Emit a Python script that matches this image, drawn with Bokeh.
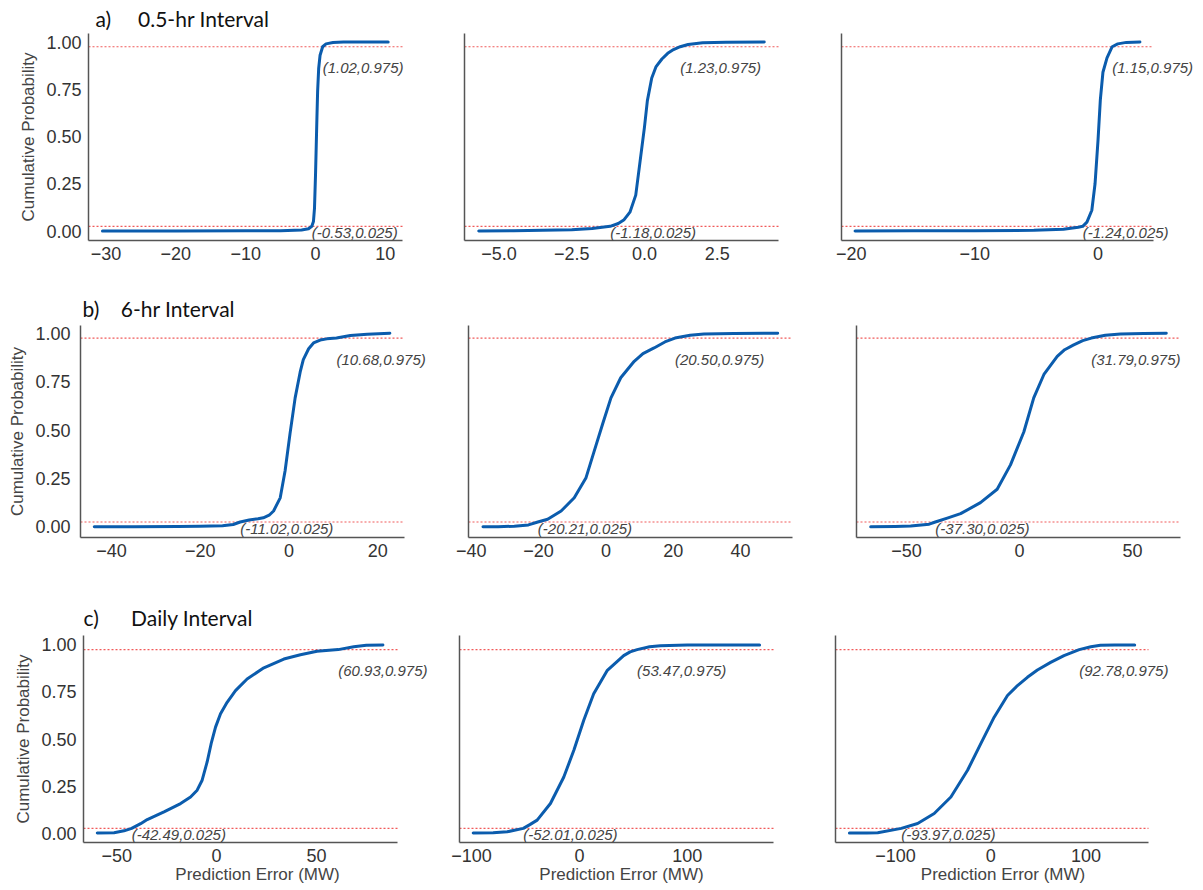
from bokeh.plotting import figure
from bokeh.layouts import column, row
from bokeh.models import Range1d, FixedTicker, Label, Title
from bokeh.embed import file_html
from bokeh.resources import INLINE

# ---------------- data ----------------
row_titles = ["a)", "b)", "c)"]
row_names = ["0.5-hr Interval", "6-hr Interval", "Daily Interval"]
y_label = "Cumulative Probability"
x_label = "Prediction Error (MW)"
quantile_levels = [0.025, 0.975]
y_ticks = [0.0, 0.25, 0.5, 0.75, 1.0]
y_tick_labels = ["0.00", "0.25", "0.50", "0.75", "1.00"]

# row a (0.5-hr)
a1_x = [-30.5, -20, -10, -5, -2, -1.0, -0.53, -0.3, -0.15, 0.0, 0.1, 0.2, 0.3, 0.45, 0.65, 1.02, 1.5, 2.5, 4, 7, 10.4]
a1_p = [0.0, 0.0, 0.001, 0.002, 0.006, 0.012, 0.025, 0.05, 0.12, 0.3, 0.45, 0.6, 0.74, 0.86, 0.93, 0.975, 0.99, 0.997, 1.0, 1.0, 1.0]
a2_x = [-5.7, -4.5, -3.5, -2.5, -1.8, -1.18, -0.9, -0.7, -0.5, -0.3, -0.15, 0.0, 0.1, 0.25, 0.4, 0.6, 0.8, 1.0, 1.23, 1.5, 2.0, 2.8, 4.12]
a2_p = [0.0, 0.002, 0.004, 0.007, 0.013, 0.025, 0.04, 0.06, 0.1, 0.19, 0.37, 0.55, 0.69, 0.81, 0.87, 0.91, 0.94, 0.96, 0.975, 0.987, 0.996, 0.999, 1.0]
a3_x = [-19.7, -15, -10, -5.2, -2.8, -1.6, -1.24, -0.9, -0.5, -0.24, 0.0, 0.19, 0.4, 0.73, 1.15, 1.6, 2.3, 3.4]
a3_p = [0.0, 0.001, 0.002, 0.004, 0.01, 0.02, 0.025, 0.047, 0.11, 0.25, 0.48, 0.695, 0.84, 0.916, 0.975, 0.99, 0.998, 1.0]
# row b (6-hr)
b1_x = [-43.9, -35, -25, -20.1, -15, -12.6, -11.02, -9, -7, -5.8, -4.5, -3.5, -2.0, -0.9, 0.2, 1.36, 2.5, 3.2, 4.4, 5.5, 7.0, 8.5, 10.68, 13.8, 17.6, 22.7]
b1_p = [0.0, 0.001, 0.002, 0.003, 0.006, 0.012, 0.025, 0.035, 0.042, 0.047, 0.06, 0.082, 0.15, 0.29, 0.48, 0.666, 0.80, 0.864, 0.92, 0.95, 0.965, 0.971, 0.975, 0.988, 0.995, 1.0]
b2_x = [-36.5, -32, -27.2, -23, -20.21, -17.3, -13.3, -9.4, -5.9, -3.5, -1.0, 1.5, 4.4, 8.4, 11, 14.3, 17.5, 20.5, 25, 29.1, 38, 51]
b2_p = [0.0, 0.001, 0.003, 0.01, 0.025, 0.039, 0.082, 0.15, 0.254, 0.39, 0.53, 0.666, 0.77, 0.855, 0.895, 0.924, 0.955, 0.975, 0.99, 0.996, 0.999, 1.0]
b3_x = [-65.9, -55, -48.2, -40, -37.3, -32, -26.1, -17.3, -9.9, -4.0, 1.9, 6.3, 10.8, 16.7, 20, 24, 28, 31.79, 38, 44.7, 55, 65]
b3_p = [0.0, 0.002, 0.004, 0.014, 0.025, 0.045, 0.068, 0.125, 0.194, 0.32, 0.49, 0.666, 0.787, 0.88, 0.915, 0.94, 0.962, 0.975, 0.99, 0.996, 0.999, 1.0]
# row c (daily)
c1_x = [-59.7, -51.3, -46.3, -42.49, -38, -34.7, -26.3, -18, -13, -9.7, -7.2, -4.7, -2.7, -0.5, 2.0, 5.3, 9.5, 15.3, 23.7, 33.7, 42, 50.3, 60.93, 68.7, 75, 83.3]
c1_p = [0.0, 0.002, 0.012, 0.025, 0.05, 0.072, 0.113, 0.157, 0.192, 0.228, 0.281, 0.378, 0.475, 0.563, 0.634, 0.695, 0.757, 0.819, 0.878, 0.925, 0.948, 0.966, 0.975, 0.99, 0.998, 1.0]
c2_x = [-98.5, -80, -67, -52.01, -46, -39.2, -26.9, -14.5, -5.2, 4, 13.2, 25.6, 41, 47, 53.47, 65, 75, 100, 130, 167]
c2_p = [0.0, 0.002, 0.007, 0.025, 0.045, 0.069, 0.157, 0.298, 0.44, 0.6, 0.74, 0.863, 0.943, 0.963, 0.975, 0.99, 0.996, 0.999, 1.0, 1.0]
c3_x = [-148.4, -130, -118.7, -93.97, -76.8, -59.4, -41.9, -24.4, -10.5, 3.5, 17.5, 28, 38.4, 48.9, 62.8, 76.8, 92.78, 105, 115, 130, 151]
c3_p = [0.0, 0.0, 0.002, 0.025, 0.051, 0.104, 0.192, 0.334, 0.475, 0.616, 0.731, 0.784, 0.828, 0.867, 0.907, 0.943, 0.975, 0.99, 0.998, 1.0, 1.0]

lower_x = [-0.53, -1.18, -1.24, -11.02, -20.21, -37.30, -42.49, -52.01, -93.97]
upper_x = [1.02, 1.23, 1.15, 10.68, 20.50, 31.79, 60.93, 53.47, 92.78]

x_ticks = [
    [-30, -20, -10, 0, 10], [-5.0, -2.5, 0.0, 2.5], [-20, -10, 0],
    [-40, -20, 0, 20], [-40, -20, 0, 20, 40], [-50, 0, 50],
    [-50, 0, 50], [-100, 0, 100], [-100, 0, 100],
]
x_tick_labels = [
    ["\u221230", "\u221220", "\u221210", "0", "10"], ["\u22125.0", "\u22122.5", "0.0", "2.5"], ["\u221220", "\u221210", "0"],
    ["\u221240", "\u221220", "0", "20"], ["\u221240", "\u221220", "0", "20", "40"], ["\u221250", "0", "50"],
    ["\u221250", "0", "50"], ["\u2212100", "0", "100"], ["\u2212100", "0", "100"],
]
curves_x = [a1_x, a2_x, a3_x, b1_x, b2_x, b3_x, c1_x, c2_x, c3_x]
curves_p = [a1_p, a2_p, a3_p, b1_p, b2_p, b3_p, c1_p, c2_p, c3_p]

# ---------------- layout / styling ----------------
x_ranges = [(-32.5, 12.45), (-6.19, 4.61), (-20.8, 4.5),
            (-47.0, 26.0), (-40.8, 55.4), (-72.2, 71.3),
            (-66.6, 90.6), (-111.2, 179.9), (-163.0, 165.5)]
row_y_range = [(-0.05, 1.045), (-0.055, 1.04), (-0.05, 1.05)]
frame_w = [314, 314, 312, 324, 324, 324, 314, 314, 313]
row_frame_h = [207, 212, 207]
border_l = [88, 52, 53, 80, 38, 54, 83, 28, 52]
text_room = [10, 10, 45, 26, 10, 13, 34, 10, 22]   # space right of the axes for the notes
row_border_t = [33, 45, 58]
row_border_b = [40, 40, 46]
title_offset = [7, 2, 0]
title_gap = [5, 4, 6]
title_standoff = [6, 9, 12]
ylab_standoff = [7, 10, 7]

BLUE = "#0b5cad"
RED = "#f04848"
TICK_COLOR = "#333333"
AXIS_COLOR = "#555555"
FONT = "Liberation Sans"

rows = []
for r in range(3):
    figs = []
    for c in range(3):
        i = r * 3 + c
        xmin, xmax = x_ranges[i]
        per_px = (xmax - xmin) / frame_w[i]
        p = figure(
            x_range=Range1d(xmin, xmax + text_room[i] * per_px),
            y_range=Range1d(*row_y_range[r]),
            frame_width=frame_w[i] + text_room[i], frame_height=row_frame_h[r],
            min_border_left=border_l[i], min_border_right=0,
            min_border_top=row_border_t[r], min_border_bottom=row_border_b[r],
            output_backend="svg", toolbar_location=None, title=None,
        )
        p.outline_line_color = None
        p.xgrid.visible = False
        p.ygrid.visible = False
        p.background_fill_color = "white"
        p.border_fill_color = "white"

        # dotted quantile reference lines across the axes
        p.segment(x0=[xmin] * len(quantile_levels), x1=[xmax] * len(quantile_levels),
                  y0=quantile_levels, y1=quantile_levels,
                  line_color=RED, line_dash="2 2", line_width=1.2, line_alpha=0.9)

        p.line(curves_x[i], curves_p[i], line_width=3, line_color=BLUE,
               line_join="round", line_cap="round")

        lab_up = Label(x=upper_x[i], y=quantile_levels[1], y_offset=-21,
                       text="(%.2f,%.3f)" % (upper_x[i], quantile_levels[1]),
                       text_font=FONT, text_font_size="15px", text_font_style="italic",
                       text_color="#444444", text_baseline="middle", text_align="left")
        lab_lo = Label(x=lower_x[i], y=quantile_levels[0], y_offset=-6,
                       text="(%.2f,%.3f)" % (lower_x[i], quantile_levels[0]),
                       text_font=FONT, text_font_size="15px", text_font_style="italic",
                       text_color="#444444", text_baseline="middle", text_align="left")
        p.add_layout(lab_up)
        p.add_layout(lab_lo)

        # x axis
        xa = p.xaxis[0]
        xa.bounds = (xmin, xmax)
        xa.ticker = FixedTicker(ticks=x_ticks[i])
        xa.major_label_overrides = {t: s for t, s in zip(x_ticks[i], x_tick_labels[i])}
        xa.major_label_text_font = FONT
        xa.major_label_text_font_size = "18px"
        xa.major_label_text_color = TICK_COLOR
        xa.major_label_standoff = 6
        xa.major_tick_line_color = None
        xa.minor_tick_line_color = None
        xa.major_tick_out = 0
        xa.major_tick_in = 0
        xa.axis_line_color = AXIS_COLOR
        xa.axis_line_width = 1.5
        if r == 2:
            xa.axis_label = x_label
            xa.axis_label_text_font = FONT
            xa.axis_label_text_font_size = "17px"
            xa.axis_label_text_font_style = "normal"
            xa.axis_label_text_color = "#444444"
            xa.axis_label_standoff = 0

        # y axis
        ya = p.yaxis[0]
        ya.axis_line_color = AXIS_COLOR
        ya.axis_line_width = 1.5
        ya.major_tick_line_color = None
        ya.minor_tick_line_color = None
        ya.major_tick_out = 0
        ya.major_tick_in = 0
        if c == 0:
            ya.ticker = FixedTicker(ticks=y_ticks)
            ya.major_label_overrides = {t: s for t, s in zip(y_ticks, y_tick_labels)}
            ya.major_label_text_font = FONT
            ya.major_label_text_font_size = "18px"
            ya.major_label_text_color = TICK_COLOR
            ya.major_label_standoff = ylab_standoff[r]
            ya.axis_label = y_label
            ya.axis_label_text_font = FONT
            ya.axis_label_text_font_size = "17px"
            ya.axis_label_text_font_style = "normal"
            ya.axis_label_text_color = "#444444"
            ya.axis_label_standoff = 5
            ttl = Title(text=row_titles[r] + "\u00a0" * title_gap[r] + row_names[r],
                        align="left", offset=title_offset[r],
                        text_font="Lato", text_font_size="21px",
                        text_font_style="normal", text_color="#111111",
                        standoff=title_standoff[r])
            p.add_layout(ttl, "above")
        else:
            ya.ticker = FixedTicker(ticks=[])
            ya.major_label_text_font_size = "0px"
        figs.append(p)
    rows.append(row(*figs, spacing=0))

layout = column(*rows, spacing=0)
open("out.html", "w").write(file_html(layout, INLINE))
